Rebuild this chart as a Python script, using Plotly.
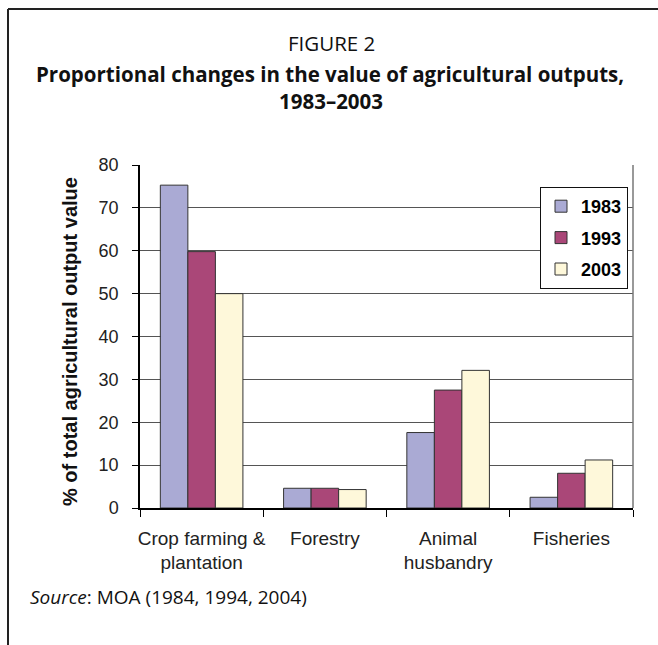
import plotly.graph_objects as go

categories = ["Crop farming &<br>plantation", "Forestry", "Animal<br>husbandry", "Fisheries"]
years = ["1983", "1993", "2003"]
values_1983 = [75.3, 4.6, 17.6, 2.5]
values_1993 = [59.8, 4.6, 27.5, 8.1]
values_2003 = [50.0, 4.3, 32.1, 11.2]
colors = ["#aaaad4", "#aa4778", "#fef8da"]

# plot area in pixels: x 140..633, y 165..508
L, R, T, B = 140, 25, 165, 137
W, H = 658, 645
pw, ph = W - L - R, H - T - B

def px(x):
    return (x - L) / pw

def py(y):
    return (H - B - y) / ph

fig = go.Figure()
for i, (yr, vals) in enumerate(zip(years, [values_1983, values_1993, values_2003])):
    fig.add_trace(go.Bar(x=categories, y=vals, name=yr, legendgroup=yr,
                         marker=dict(color=colors[i], line=dict(color="#333333", width=1))))

fig.update_layout(
    width=W, height=H, margin=dict(l=L, r=R, t=T, b=B),
    paper_bgcolor="white", plot_bgcolor="white",
    barmode="group", bargap=0.33, bargroupgap=0,
    font=dict(family="Arial, Liberation Sans", size=18, color="#222222"),
    legend=dict(x=px(628), y=py(187), xanchor="right", yanchor="top",
                bgcolor="white", bordercolor="#111111", borderwidth=1,
                font=dict(size=18, color="black", weight="bold"),
                traceorder="grouped", tracegroupgap=5, itemwidth=30),
    showlegend=True,
)
fig.update_yaxes(range=[0, 80], dtick=10, showgrid=True, gridcolor="#555555", gridwidth=1,
                 showline=True, linecolor="black", linewidth=1.5,
                 ticks="outside", ticklen=6, tickcolor="black", zeroline=False,
                 ticklabelstandoff=10, tickfont=dict(size=18))
fig.update_xaxes(showline=True, linecolor="black", linewidth=1.5,
                 ticks="outside", ticklen=7, tickcolor="black", tickson="boundaries",
                 tickangle=0, tickfont=dict(size=19), ticklabelstandoff=12)

# right border of plot area
fig.add_shape(type="line", xref="paper", yref="paper", x0=1, x1=1, y0=0, y1=1,
              line=dict(color="#777777", width=1.5))
# outer frame (top and left)
fig.add_shape(type="line", xref="paper", yref="paper", x0=px(8), x1=px(658), y0=py(9), y1=py(9),
              line=dict(color="#222222", width=2))
fig.add_shape(type="line", xref="paper", yref="paper", x0=px(8), x1=px(8), y0=py(9), y1=py(645),
              line=dict(color="#222222", width=2))

tfont = "Open Sans, Noto Sans, Arial"
fig.add_annotation(text="FIGURE 2", xref="paper", yref="paper", x=px(331), y=py(43),
                   showarrow=False, xanchor="center", yanchor="middle",
                   font=dict(family=tfont, size=20.5, color="#111111"))
fig.add_annotation(text="<b>Proportional changes in the value of agricultural outputs,</b>",
                   xref="paper", yref="paper", x=px(330), y=py(74),
                   showarrow=False, xanchor="center", yanchor="middle",
                   font=dict(family=tfont, size=20.5, color="#111111"))
fig.add_annotation(text="<b>1983–2003</b>", xref="paper", yref="paper", x=px(331), y=py(101),
                   showarrow=False, xanchor="center", yanchor="middle",
                   font=dict(family=tfont, size=20.5, color="#111111"))
fig.add_annotation(text="<b>% of total agricultural output value</b>", xref="paper", yref="paper",
                   x=px(70), y=py(342), textangle=-90, showarrow=False,
                   xanchor="center", yanchor="middle",
                   font=dict(family="Arial, Liberation Sans", size=20, color="#111111"))
fig.add_annotation(text="<i>Source</i>: MOA (1984, 1994, 2004)", xref="paper", yref="paper",
                   x=px(28), y=py(597), showarrow=False, xanchor="left", yanchor="middle",
                   font=dict(family=tfont, size=19, color="#111111"))

fig.write_html("out.html", config={"displayModeBar": False},
               post_script="document.body.style.margin='0px';")
